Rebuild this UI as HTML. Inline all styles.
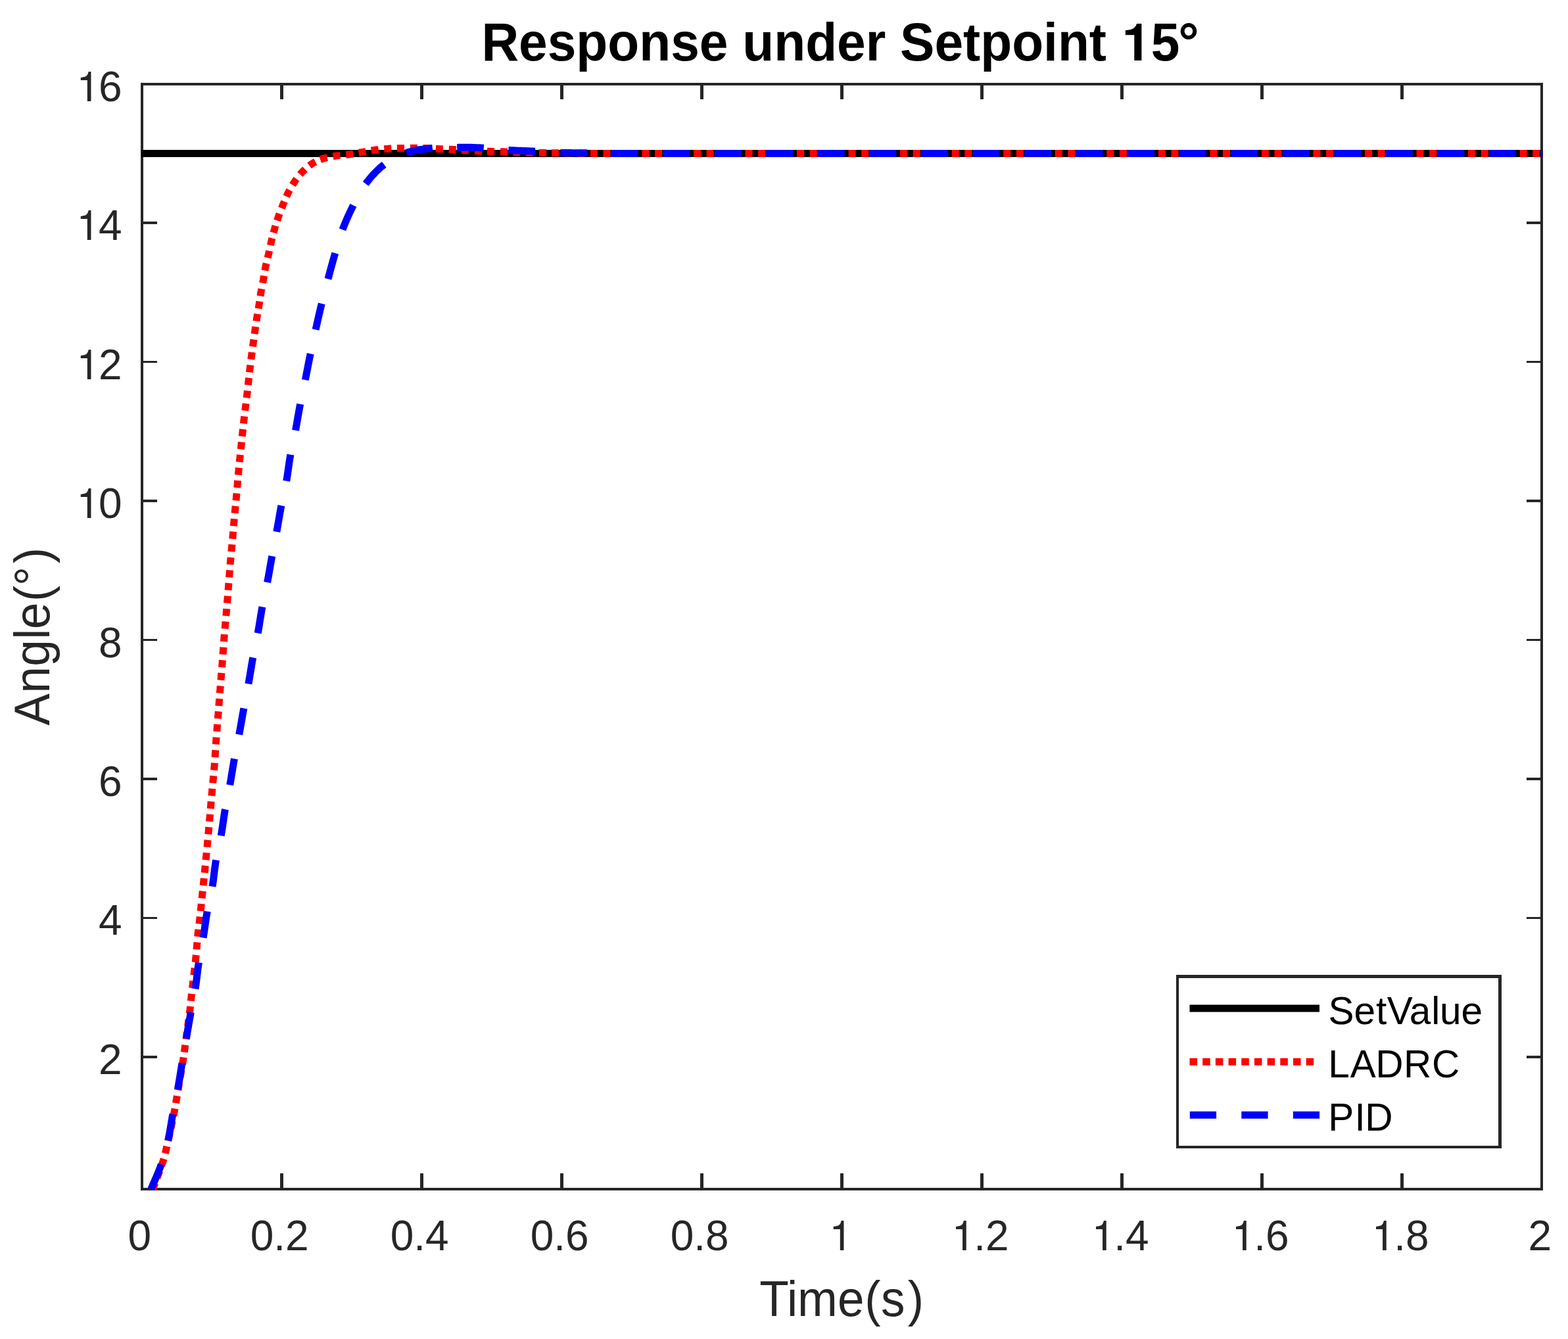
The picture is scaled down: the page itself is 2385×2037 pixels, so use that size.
<!DOCTYPE html>
<html><head><meta charset="utf-8"><title>Response under Setpoint 15°</title>
<style>html,body{margin:0;padding:0;background:#fff;}body{width:2385px;height:2037px;overflow:hidden;}svg{display:block;}text{font-family:'Liberation Sans', Arial, Helvetica, sans-serif;}</style>
</head><body>
<svg width="2385" height="2037" viewBox="0 0 2385 2037">
<rect x="0" y="0" width="2385" height="2037" fill="#ffffff"/>
<g stroke="#262626" fill="none" shape-rendering="crispEdges">
<rect x="216" y="128" width="2129" height="1681" stroke-width="4"/>
<line x1="428.5" y1="1809.0" x2="428.5" y2="1785.0" stroke-width="4.7"/>
<line x1="428.5" y1="128.0" x2="428.5" y2="151.0" stroke-width="4.7"/>
<line x1="641.5" y1="1809.0" x2="641.5" y2="1785.0" stroke-width="4.7"/>
<line x1="641.5" y1="128.0" x2="641.5" y2="151.0" stroke-width="4.7"/>
<line x1="854.5" y1="1809.0" x2="854.5" y2="1785.0" stroke-width="4.7"/>
<line x1="854.5" y1="128.0" x2="854.5" y2="151.0" stroke-width="4.7"/>
<line x1="1067.5" y1="1809.0" x2="1067.5" y2="1785.0" stroke-width="4.7"/>
<line x1="1067.5" y1="128.0" x2="1067.5" y2="151.0" stroke-width="4.7"/>
<line x1="1280.5" y1="1809.0" x2="1280.5" y2="1785.0" stroke-width="4.7"/>
<line x1="1280.5" y1="128.0" x2="1280.5" y2="151.0" stroke-width="4.7"/>
<line x1="1493.5" y1="1809.0" x2="1493.5" y2="1785.0" stroke-width="4.7"/>
<line x1="1493.5" y1="128.0" x2="1493.5" y2="151.0" stroke-width="4.7"/>
<line x1="1706.5" y1="1809.0" x2="1706.5" y2="1785.0" stroke-width="4.7"/>
<line x1="1706.5" y1="128.0" x2="1706.5" y2="151.0" stroke-width="4.7"/>
<line x1="1919.5" y1="1809.0" x2="1919.5" y2="1785.0" stroke-width="4.7"/>
<line x1="1919.5" y1="128.0" x2="1919.5" y2="151.0" stroke-width="4.7"/>
<line x1="2132.5" y1="1809.0" x2="2132.5" y2="1785.0" stroke-width="4.7"/>
<line x1="2132.5" y1="128.0" x2="2132.5" y2="151.0" stroke-width="4.7"/>
<line x1="216.0" y1="1607.9" x2="239.0" y2="1607.9" stroke-width="3.8"/>
<line x1="2345.0" y1="1607.9" x2="2322.0" y2="1607.9" stroke-width="3.8"/>
<line x1="216.0" y1="1396.4" x2="239.0" y2="1396.4" stroke-width="3.8"/>
<line x1="2345.0" y1="1396.4" x2="2322.0" y2="1396.4" stroke-width="3.8"/>
<line x1="216.0" y1="1185.0" x2="239.0" y2="1185.0" stroke-width="3.8"/>
<line x1="2345.0" y1="1185.0" x2="2322.0" y2="1185.0" stroke-width="3.8"/>
<line x1="216.0" y1="973.5" x2="239.0" y2="973.5" stroke-width="3.8"/>
<line x1="2345.0" y1="973.5" x2="2322.0" y2="973.5" stroke-width="3.8"/>
<line x1="216.0" y1="762.0" x2="239.0" y2="762.0" stroke-width="3.8"/>
<line x1="2345.0" y1="762.0" x2="2322.0" y2="762.0" stroke-width="3.8"/>
<line x1="216.0" y1="550.5" x2="239.0" y2="550.5" stroke-width="3.8"/>
<line x1="2345.0" y1="550.5" x2="2322.0" y2="550.5" stroke-width="3.8"/>
<line x1="216.0" y1="339.0" x2="239.0" y2="339.0" stroke-width="3.8"/>
<line x1="2345.0" y1="339.0" x2="2322.0" y2="339.0" stroke-width="3.8"/>
</g>
<defs><clipPath id="ax"><rect x="215.0" y="127.0" width="2131.0" height="1687.0"/></clipPath></defs>
<g fill="none" stroke-linejoin="round">
<line x1="214.5" y1="233.5" x2="2346.2" y2="233.5" stroke="#000" stroke-width="11"/>
<path d="M232.50,1808.80 L233.21,1806.89 L233.97,1804.87 L234.70,1802.96 L235.49,1800.85 L235.89,1799.81 M238.94,1791.73 L239.81,1789.43 L240.62,1787.26 L241.43,1785.07 L242.25,1782.86 L242.78,1781.42 M245.70,1773.30 L246.49,1771.05 L247.17,1769.07 L247.82,1767.13 L248.45,1765.18 L249.04,1763.21 L249.15,1762.85 M251.33,1754.65 L251.90,1752.30 L252.37,1750.30 L252.82,1748.32 L253.27,1746.37 L253.72,1744.42 L253.82,1743.94 M255.70,1735.60 L256.24,1733.17 L256.67,1731.21 L257.10,1729.26 L257.53,1727.30 L257.96,1725.34 L258.06,1724.86 M259.86,1716.51 L260.38,1714.07 L260.80,1712.11 L261.21,1710.15 L261.63,1708.19 L262.04,1706.23 L262.14,1705.75 M263.89,1697.39 L264.39,1694.94 L264.80,1692.98 L265.20,1691.01 L265.59,1689.03 L265.96,1687.04 L266.04,1686.60 M267.50,1678.03 L267.90,1675.59 L268.23,1673.60 L268.57,1671.61 L268.90,1669.64 L269.24,1667.67 L269.32,1667.18 M270.81,1658.46 L271.18,1656.33 L271.51,1654.35 L271.85,1652.38 L272.19,1650.41 L272.52,1648.44 L272.66,1647.62 M274.14,1638.90 L274.53,1636.60 L274.86,1634.63 L275.19,1632.65 L275.53,1630.68 L275.86,1628.71 L275.97,1628.05 M277.41,1619.33 L277.82,1616.86 L278.14,1614.89 L278.46,1612.89 L278.78,1610.87 L279.09,1608.85 L279.14,1608.47 M280.25,1600.65 L280.59,1598.24 L280.86,1596.21 L281.14,1594.21 L281.41,1592.22 L281.68,1590.23 L281.75,1589.75 M282.94,1581.09 L283.25,1578.79 L283.53,1576.80 L283.80,1574.81 L284.07,1572.82 L284.34,1570.83 L284.43,1570.19 M285.61,1561.53 L285.90,1559.39 L286.16,1557.40 L286.43,1555.41 L286.70,1553.42 L286.96,1551.43 L287.07,1550.62 M288.20,1541.96 L288.52,1539.49 L288.77,1537.50 L289.03,1535.49 L289.26,1533.47 L289.48,1531.45 L289.52,1531.04 M290.33,1522.77 L290.58,1520.33 L290.79,1518.31 L291.01,1516.30 L291.24,1514.30 L291.47,1512.31 L291.52,1511.84 M292.54,1503.13 L292.81,1500.83 L293.05,1498.83 L293.29,1496.84 L293.52,1494.84 L293.76,1492.85 L293.84,1492.21 M294.87,1483.50 L295.12,1481.37 L295.35,1479.37 L295.59,1477.38 L295.82,1475.38 L296.05,1473.38 L296.14,1472.58 M297.11,1463.87 L297.38,1461.40 L297.59,1459.40 L297.80,1457.40 L298.01,1455.40 L298.20,1453.41 L298.25,1452.93 M299.01,1444.38 L299.22,1441.90 L299.39,1439.90 L299.55,1437.90 L299.72,1435.90 L299.89,1433.90 L299.93,1433.42 M300.67,1424.87 L300.91,1422.40 L301.10,1420.40 L301.30,1418.40 L301.53,1416.41 L301.77,1414.42 L301.83,1413.94 M302.93,1405.46 L303.25,1402.99 L303.49,1401.00 L303.71,1399.00 L303.93,1397.00 L304.15,1395.00 L304.20,1394.53 M305.11,1385.97 L305.37,1383.50 L305.58,1381.50 L305.79,1379.50 L305.99,1377.50 L306.20,1375.50 L306.25,1375.03 M307.13,1366.47 L307.39,1364.00 L307.60,1362.00 L307.80,1359.99 L308.01,1357.98 L308.22,1355.97 L308.27,1355.53 M309.15,1347.12 L309.38,1344.92 L309.59,1342.91 L309.80,1340.90 L310.01,1338.89 L310.21,1336.88 L310.29,1336.18 M311.15,1327.77 L311.40,1325.32 L311.60,1323.31 L311.80,1321.30 L312.00,1319.30 L312.20,1317.30 L312.25,1316.83 M313.10,1308.28 L313.34,1305.80 L313.54,1303.80 L313.73,1301.80 L313.93,1299.80 L314.12,1297.80 L314.16,1297.33 M314.98,1288.78 L315.22,1286.30 L315.41,1284.30 L315.59,1282.30 L315.78,1280.30 L315.96,1278.30 L316.01,1277.82 M316.78,1269.28 L317.01,1266.80 L317.19,1264.80 L317.36,1262.80 L317.54,1260.80 L317.72,1258.80 L317.76,1258.32 M318.52,1249.78 L318.74,1247.30 L318.91,1245.30 L319.09,1243.30 L319.26,1241.29 L319.44,1239.29 L319.48,1238.82 M320.22,1230.23 L320.44,1227.76 L320.61,1225.75 L320.78,1223.75 L320.95,1221.74 L321.13,1219.74 L321.17,1219.27 M321.91,1210.68 L322.13,1208.21 L322.31,1206.20 L322.49,1204.20 L322.67,1202.20 L322.86,1200.20 L322.90,1199.72 M323.72,1191.18 L323.96,1188.70 L324.15,1186.70 L324.34,1184.70 L324.53,1182.70 L324.72,1180.70 L324.76,1180.23 M325.54,1171.68 L325.75,1169.20 L325.92,1167.20 L326.08,1165.20 L326.24,1163.19 L326.39,1161.18 L326.42,1160.72 M327.02,1152.09 L327.19,1149.62 L327.32,1147.61 L327.45,1145.60 L327.58,1143.59 L327.71,1141.58 L327.74,1141.11 M328.31,1132.49 L328.48,1130.01 L328.63,1128.00 L328.77,1125.99 L328.93,1123.98 L329.08,1121.97 L329.11,1121.52 M329.79,1112.88 L329.99,1110.41 L330.15,1108.40 L330.31,1106.39 L330.47,1104.38 L330.64,1102.37 L330.67,1101.92 M331.37,1093.28 L331.56,1090.82 L331.72,1088.81 L331.88,1086.80 L332.03,1084.81 L332.19,1082.81 L332.23,1082.32 M332.88,1073.83 L333.07,1071.34 L333.22,1069.35 L333.37,1067.35 L333.52,1065.36 L333.68,1063.36 L333.71,1062.87 M334.37,1054.38 L334.56,1051.89 L334.72,1049.90 L334.88,1047.89 L335.04,1045.88 L335.20,1043.87 L335.24,1043.42 M335.95,1034.78 L336.16,1032.32 L336.32,1030.31 L336.49,1028.30 L336.66,1026.29 L336.82,1024.28 L336.86,1023.82 M337.57,1015.18 L337.76,1012.72 L337.92,1010.71 L338.08,1008.70 L338.23,1006.69 L338.38,1004.68 L338.42,1004.22 M339.04,995.59 L339.22,993.11 L339.36,991.10 L339.51,989.09 L339.65,987.08 L339.80,985.07 L339.83,984.61 M340.47,975.98 L340.66,973.51 L340.82,971.50 L340.98,969.50 L341.15,967.51 L341.31,965.51 L341.35,965.02 M342.09,956.53 L342.31,954.04 L342.49,952.05 L342.67,950.05 L342.85,948.06 L343.03,946.06 L343.07,945.57 M343.83,937.08 L344.04,934.59 L344.22,932.60 L344.38,930.60 L344.55,928.59 L344.72,926.58 L344.76,926.12 M345.47,917.48 L345.67,915.02 L345.84,913.01 L346.00,911.00 L346.16,908.99 L346.33,906.98 L346.36,906.52 M347.06,897.88 L347.26,895.42 L347.42,893.41 L347.58,891.40 L347.74,889.40 L347.90,887.40 L347.94,886.92 M348.60,878.38 L348.79,875.90 L348.95,873.90 L349.10,871.90 L349.26,869.90 L349.42,867.90 L349.45,867.41 M350.14,858.88 L350.35,856.40 L350.51,854.40 L350.69,852.39 L350.86,850.38 L351.04,848.37 L351.08,847.92 M351.87,839.27 L352.10,836.81 L352.29,834.80 L352.48,832.79 L352.67,830.78 L352.86,828.77 L352.90,828.32 M353.71,819.68 L353.93,817.22 L354.11,815.21 L354.29,813.20 L354.46,811.20 L354.62,809.20 L354.66,808.72 M355.33,800.18 L355.54,797.70 L355.71,795.70 L355.89,793.69 L356.08,791.68 L356.27,789.67 L356.31,789.22 M357.11,780.82 L357.33,778.62 L357.53,776.61 L357.72,774.60 L357.92,772.59 L358.11,770.58 L358.18,769.88 M358.99,761.48 L359.22,759.02 L359.41,757.01 L359.59,755.00 L359.77,753.00 L359.95,751.00 L359.99,750.52 M360.72,741.98 L360.93,739.50 L361.10,737.50 L361.27,735.50 L361.44,733.50 L361.61,731.50 L361.65,731.02 M362.39,722.48 L362.62,720.00 L362.81,718.00 L363.00,716.00 L363.19,713.99 L363.38,711.98 L363.43,711.53 M364.29,702.92 L364.55,700.45 L364.75,698.45 L364.96,696.44 L365.17,694.44 L365.38,692.43 L365.43,691.98 M366.33,683.37 L366.59,680.91 L366.80,678.90 L367.00,676.90 L367.21,674.90 L367.42,672.90 L367.46,672.43 M368.34,663.87 L368.59,661.40 L368.80,659.39 L369.00,657.39 L369.21,655.39 L369.42,653.39 L369.47,652.92 M370.39,644.37 L370.66,641.90 L370.89,639.90 L371.11,637.90 L371.35,635.89 L371.59,633.88 L371.64,633.44 M372.70,624.81 L373.01,622.36 L373.26,620.35 L373.51,618.35 L373.77,616.34 L374.02,614.34 L374.08,613.89 M375.15,605.26 L375.44,602.81 L375.68,600.80 L375.92,598.80 L376.14,596.80 L376.37,594.80 L376.42,594.34 M377.35,585.77 L377.61,583.30 L377.82,581.30 L378.04,579.30 L378.25,577.30 L378.46,575.30 L378.51,574.83 M379.46,566.26 L379.74,563.80 L379.98,561.80 L380.22,559.80 L380.46,557.80 L380.71,555.81 L380.77,555.34 M381.86,546.79 L382.18,544.33 L382.44,542.34 L382.70,540.34 L382.97,538.35 L383.23,536.35 L383.29,535.89 M384.45,527.35 L384.79,524.89 L385.06,522.90 L385.34,520.90 L385.61,518.91 L385.89,516.92 L385.95,516.45 M387.15,507.93 L387.50,505.48 L387.79,503.48 L388.08,501.50 L388.36,499.51 L388.65,497.52 L388.72,497.05 M389.98,488.54 L390.35,486.08 L390.65,484.09 L390.96,482.09 L391.28,480.08 L391.61,478.07 L391.68,477.67 M393.10,469.43 L393.51,467.02 L393.84,465.01 L394.16,463.00 L394.47,460.99 L394.77,458.97 L394.83,458.56 M396.03,450.33 L396.41,447.91 L396.73,445.90 L397.07,443.91 L397.42,441.92 L397.78,439.94 L397.87,439.49 M399.59,430.51 L400.05,428.07 L400.42,426.09 L400.78,424.10 L401.12,422.08 L401.46,420.07 L401.52,419.68 M402.89,411.41 L403.32,409.00 L403.70,407.00 L404.10,405.02 L404.53,403.05 L404.98,401.09 L405.09,400.63 M407.13,392.25 L407.71,389.84 L408.17,387.88 L408.62,385.92 L409.06,383.96 L409.48,382.00 L409.58,381.53 M411.38,373.16 L411.92,370.73 L412.37,368.78 L412.83,366.82 L413.31,364.85 L413.78,362.88 L413.89,362.45 M416.04,354.00 L416.68,351.62 L417.22,349.67 L417.78,347.72 L418.35,345.77 L418.93,343.83 L419.05,343.42 M421.54,335.51 L422.31,333.18 L422.97,331.26 L423.64,329.34 L424.32,327.41 L425.03,325.50 L425.16,325.13 M428.36,316.81 L429.26,314.54 L430.02,312.65 L430.78,310.76 L431.54,308.86 L432.30,306.97 L432.45,306.59 M435.67,298.88 L436.68,296.65 L437.55,294.81 L438.46,292.99 L439.38,291.18 L440.33,289.38 L440.53,289.01 M444.92,281.32 L446.22,279.25 L447.33,277.54 L448.47,275.87 L449.62,274.21 L450.79,272.57 L451.06,272.20 M456.40,265.37 L458.04,263.50 L459.41,262.02 L460.81,260.57 L462.26,259.12 L463.75,257.70 L464.02,257.44 M470.49,251.94 L472.46,250.49 L474.15,249.35 L475.85,248.28 L478.01,247.03 L479.79,246.10 M487.21,242.82 L489.55,241.96 L491.45,241.31 L493.37,240.70 L495.33,240.14 L497.30,239.64 L497.70,239.55 M506.47,237.86 L508.87,237.47 L510.89,237.16 L512.89,236.85 L514.87,236.58 L516.86,236.35 L517.35,236.30 M526.34,235.44 L528.82,235.18 L530.81,234.93 L532.81,234.65 L534.83,234.35 L536.84,234.02 L537.23,233.95 M545.49,232.47 L547.89,232.03 L549.89,231.67 L551.89,231.33 L553.87,230.98 L555.84,230.62 L556.31,230.53 M564.76,229.02 L567.22,228.63 L569.21,228.34 L571.20,228.07 L573.20,227.82 L575.21,227.59 L575.66,227.54 M584.32,226.71 L586.78,226.52 L588.79,226.37 L590.80,226.23 L592.81,226.11 L594.82,226.00 L595.29,225.98 M603.90,225.65 L606.38,225.58 L608.39,225.53 L610.40,225.48 L612.90,225.42 L614.90,225.39 M623.90,225.31 L626.40,225.30 L628.40,225.30 L630.41,225.30 L632.42,225.30 L634.43,225.30 L634.90,225.30 M643.50,225.37 L645.99,225.42 L648.00,225.47 L650.02,225.54 L652.05,225.63 L654.08,225.73 L654.49,225.76 M662.81,226.28 L665.25,226.44 L667.28,226.55 L669.32,226.65 L671.36,226.74 L673.40,226.82 L673.80,226.83 M682.71,227.15 L685.14,227.25 L687.18,227.35 L689.22,227.46 L691.25,227.58 L693.28,227.71 L693.69,227.74 M702.01,228.34 L704.45,228.51 L706.48,228.64 L708.50,228.76 L710.50,228.87 L712.50,228.98 L712.99,229.01 M722.01,229.45 L724.50,229.57 L726.50,229.66 L728.50,229.74 L730.50,229.83 L732.50,229.91 L733.00,229.93 M741.00,230.22 L743.50,230.31 L745.50,230.37 L747.50,230.43 L749.50,230.49 L751.50,230.54 L752.00,230.55 M761.00,230.75 L763.50,230.82 L765.50,230.87 L767.50,230.93 L769.50,231.00 L771.50,231.07 L772.00,231.08 M780.50,231.40 L783.00,231.50 L785.00,231.57 L787.02,231.63 L789.06,231.70 L791.10,231.77 L791.50,231.79 M799.90,232.06 L802.34,232.12 L804.38,232.18 L806.40,232.22 L808.41,232.26 L810.42,232.30 L810.90,232.31 M820.00,232.43 L822.48,232.46 L824.49,232.49 L826.50,232.51 L828.50,232.54 L830.50,232.56 L831.00,232.56 M839.00,232.64 L841.50,232.66 L843.50,232.69 L845.51,232.71 L847.53,232.74 L849.55,232.77 L850.00,232.78 M858.95,232.92 L861.17,232.96 L863.19,232.99 L865.21,233.02 L867.23,233.05 L869.25,233.09 L869.95,233.10 M878.90,233.23 L881.37,233.26 L883.39,233.29 L885.40,233.31 L887.40,233.33 L889.40,233.35 L889.90,233.35 M897.90,233.39 L900.40,233.39 L902.40,233.40 L904.40,233.40 L906.40,233.41 L908.41,233.41 L908.90,233.41 M917.53,233.42 L919.92,233.43 L921.92,233.43 L923.92,233.43 L925.92,233.44 L927.93,233.44 L928.53,233.44 M937.17,233.45 L939.44,233.46 L941.44,233.46 L943.44,233.46 L945.44,233.46 L947.45,233.47 L948.17,233.47 M956.80,233.48 L958.96,233.48 L960.96,233.48 L962.96,233.48 L964.96,233.48 L966.97,233.48 L967.80,233.49 M976.44,233.49 L978.48,233.49 L980.48,233.49 L982.48,233.50 L984.48,233.50 L986.49,233.50 L987.44,233.50 M996.07,233.50 L998.50,233.50 L1000.50,233.50 L1002.50,233.50 L1004.51,233.50 L1006.52,233.50 L1007.07,233.50 M1015.71,233.50 L1018.12,233.50 L1020.15,233.50 L1022.18,233.50 L1024.21,233.50 L1026.25,233.50 L1026.71,233.50 M1035.34,233.50 L1037.50,233.50 L1039.55,233.50 L1041.61,233.50 L1043.67,233.50 L1045.73,233.50 L1046.34,233.50 M1054.98,233.50 L1057.12,233.50 L1059.20,233.50 L1061.29,233.50 L1063.37,233.50 L1065.46,233.50 L1065.98,233.50 M1074.61,233.50 L1076.98,233.50 L1079.09,233.50 L1081.19,233.50 L1083.30,233.50 L1085.41,233.51 L1085.61,233.51 M1094.25,233.51 L1096.54,233.51 L1098.66,233.51 L1100.79,233.51 L1102.92,233.51 L1105.05,233.51 L1105.25,233.51 M1113.88,233.51 L1116.29,233.51 L1118.44,233.51 L1120.59,233.51 L1122.74,233.51 L1124.88,233.51 M1133.52,233.51 L1135.69,233.51 L1137.86,233.51 L1140.03,233.51 L1142.20,233.51 L1144.37,233.51 L1144.52,233.51 M1153.15,233.51 L1155.27,233.51 L1157.45,233.51 L1159.64,233.51 L1161.83,233.51 L1164.02,233.51 L1164.15,233.51 M1172.79,233.51 L1175.00,233.51 L1177.20,233.51 L1179.41,233.51 L1181.61,233.51 L1183.79,233.51 M1192.42,233.51 L1194.89,233.51 L1197.10,233.51 L1199.33,233.51 L1201.55,233.51 L1203.42,233.51 M1212.06,233.51 L1214.36,233.51 L1216.59,233.51 L1218.82,233.51 L1221.06,233.51 L1223.06,233.51 M1231.69,233.51 L1233.95,233.51 L1236.20,233.51 L1238.45,233.51 L1240.70,233.51 L1242.69,233.51 M1251.33,233.51 L1253.66,233.51 L1255.92,233.51 L1258.19,233.51 L1260.45,233.51 L1262.33,233.51 M1270.96,233.51 L1273.48,233.51 L1275.76,233.51 L1278.03,233.51 L1280.30,233.51 L1281.96,233.51 M1290.60,233.51 L1292.83,233.51 L1295.11,233.51 L1297.40,233.51 L1299.68,233.51 L1301.60,233.51 M1310.23,233.51 L1312.27,233.51 L1314.56,233.51 L1316.85,233.51 L1319.14,233.51 L1321.23,233.51 M1329.87,233.51 L1332.35,233.51 L1334.65,233.51 L1336.95,233.51 L1339.25,233.51 L1340.87,233.51 M1349.50,233.51 L1351.93,233.51 L1354.24,233.51 L1356.55,233.51 L1358.86,233.51 L1360.50,233.51 M1369.14,233.51 L1371.57,233.51 L1373.89,233.51 L1376.20,233.51 L1378.52,233.51 L1380.14,233.51 M1388.77,233.51 L1391.26,233.51 L1393.58,233.51 L1395.91,233.51 L1398.23,233.51 L1399.77,233.51 M1408.41,233.51 L1410.42,233.51 L1412.75,233.51 L1415.07,233.51 L1417.40,233.51 L1419.41,233.51 M1428.04,233.51 L1430.19,233.51 L1432.52,233.51 L1434.85,233.51 L1437.18,233.51 L1439.04,233.51 M1447.68,233.51 L1449.99,233.51 L1452.33,233.51 L1454.66,233.51 L1456.99,233.51 L1458.68,233.51 M1467.31,233.51 L1469.81,233.51 L1472.15,233.51 L1474.48,233.51 L1476.81,233.51 L1478.31,233.51 M1486.95,233.51 L1489.06,233.51 L1491.40,233.51 L1493.73,233.51 L1496.06,233.51 L1497.95,233.51 M1506.58,233.51 L1508.90,233.51 L1511.23,233.51 L1513.57,233.51 L1515.90,233.51 L1517.58,233.51 M1526.22,233.51 L1528.73,233.51 L1531.06,233.51 L1533.40,233.51 L1535.73,233.51 L1537.22,233.51 M1545.85,233.51 L1547.97,233.51 L1550.30,233.51 L1552.63,233.51 L1554.96,233.51 L1556.85,233.51 M1565.49,233.51 L1567.77,233.51 L1570.10,233.51 L1572.42,233.51 L1574.75,233.51 L1576.49,233.51 M1585.12,233.51 L1587.54,233.51 L1589.86,233.51 L1592.19,233.51 L1594.51,233.51 L1596.12,233.51 M1604.76,233.51 L1607.27,233.51 L1609.59,233.51 L1611.91,233.51 L1614.23,233.51 L1615.76,233.51 M1624.39,233.51 L1626.96,233.51 L1629.28,233.51 L1631.59,233.51 L1633.90,233.51 L1635.39,233.51 M1644.03,233.51 L1646.60,233.51 L1648.91,233.51 L1651.21,233.51 L1653.52,233.51 L1655.03,233.51 M1663.66,233.51 L1666.18,233.51 L1668.48,233.51 L1670.77,233.51 L1673.07,233.51 L1674.66,233.51 M1683.30,233.51 L1685.68,233.51 L1687.97,233.51 L1690.26,233.51 L1692.55,233.51 L1694.30,233.51 M1702.93,233.51 L1705.11,233.51 L1707.39,233.51 L1709.67,233.51 L1711.95,233.51 L1713.93,233.51 M1722.57,233.51 L1725.03,233.51 L1727.30,233.51 L1729.56,233.51 L1731.83,233.51 L1733.57,233.51 M1742.20,233.51 L1744.27,233.51 L1746.53,233.51 L1748.79,233.51 L1751.04,233.51 L1753.20,233.51 M1761.84,233.51 L1763.98,233.51 L1766.23,233.51 L1768.47,233.51 L1770.71,233.51 L1772.84,233.51 M1781.47,233.51 L1783.57,233.51 L1785.80,233.51 L1788.03,233.51 L1790.26,233.51 L1792.47,233.51 M1801.11,233.51 L1803.59,233.51 L1805.81,233.51 L1808.02,233.51 L1810.23,233.51 L1812.11,233.51 M1820.74,233.51 L1822.92,233.51 L1825.12,233.51 L1827.32,233.51 L1829.51,233.51 L1831.71,233.51 L1831.74,233.51 M1840.38,233.51 L1842.65,233.51 L1844.83,233.51 L1847.01,233.51 L1849.19,233.51 L1851.37,233.51 L1851.38,233.51 M1860.01,233.51 L1862.22,233.51 L1864.38,233.51 L1866.54,233.51 L1868.70,233.51 L1870.86,233.51 L1871.01,233.51 M1879.65,233.51 L1882.15,233.51 L1884.29,233.51 L1886.43,233.51 L1888.57,233.51 L1890.65,233.51 M1899.28,233.51 L1901.36,233.51 L1903.48,233.51 L1905.60,233.51 L1907.72,233.51 L1909.83,233.51 L1910.28,233.51 M1918.92,233.51 L1921.43,233.51 L1923.53,233.51 L1925.62,233.51 L1927.72,233.51 L1929.81,233.51 L1929.92,233.51 M1938.55,233.51 L1940.75,233.51 L1942.83,233.51 L1944.90,233.51 L1946.97,233.51 L1949.04,233.51 L1949.55,233.51 M1958.19,233.51 L1960.37,233.51 L1962.42,233.51 L1964.47,233.51 L1966.51,233.51 L1968.56,233.51 L1969.19,233.51 M1977.82,233.51 L1980.25,233.51 L1982.27,233.51 L1984.29,233.51 L1986.31,233.51 L1988.32,233.51 L1988.82,233.51 M1997.46,233.51 L1999.85,233.51 L2002.34,233.51 L2004.83,233.51 L2007.31,233.51 L2008.46,233.51 M2017.09,233.51 L2019.17,233.51 L2021.63,233.51 L2024.08,233.51 L2026.52,233.51 L2028.09,233.51 M2036.73,233.51 L2039.16,233.51 L2041.58,233.51 L2043.98,233.51 L2046.39,233.51 L2047.73,233.51 M2056.36,233.51 L2058.81,233.51 L2061.18,233.51 L2063.55,233.51 L2065.91,233.51 L2067.36,233.51 M2076.00,233.51 L2078.10,233.51 L2080.43,233.50 L2082.75,233.50 L2085.07,233.50 L2087.00,233.50 M2095.63,233.50 L2097.94,233.50 L2100.22,233.50 L2102.49,233.50 L2104.76,233.50 L2106.63,233.50 M2115.27,233.50 L2117.35,233.50 L2119.58,233.50 L2121.80,233.50 L2124.02,233.50 L2126.23,233.50 L2126.27,233.50 M2134.90,233.50 L2137.19,233.50 L2139.37,233.50 L2141.53,233.50 L2143.69,233.50 L2145.85,233.50 L2145.90,233.50 M2154.54,233.50 L2156.96,233.50 L2159.07,233.50 L2161.18,233.50 L2163.28,233.50 L2165.38,233.50 L2165.54,233.50 M2174.17,233.50 L2176.18,233.50 L2178.23,233.50 L2180.28,233.50 L2182.32,233.50 L2184.36,233.50 L2185.17,233.50 M2193.81,233.50 L2196.03,233.50 L2198.42,233.50 L2200.79,233.50 L2203.16,233.50 L2204.81,233.50 M2213.44,233.50 L2215.61,233.50 L2217.91,233.50 L2220.20,233.50 L2222.48,233.50 L2224.44,233.50 M2233.08,233.50 L2235.20,233.50 L2237.41,233.50 L2239.61,233.50 L2241.80,233.50 L2243.97,233.50 L2244.08,233.50 M2252.71,233.50 L2255.05,233.50 L2257.16,233.50 L2259.26,233.50 L2261.34,233.50 L2263.42,233.50 L2263.71,233.50 M2272.35,233.50 L2274.63,233.50 L2276.63,233.50 L2278.95,233.50 L2281.26,233.50 L2283.35,233.50 M2291.98,233.50 L2294.12,233.50 L2296.31,233.50 L2298.49,233.50 L2300.66,233.50 L2302.80,233.50 L2302.98,233.50 M2311.62,233.50 L2313.87,233.50 L2315.91,233.50 L2317.94,233.50 L2319.94,233.50 L2322.22,233.50 L2322.62,233.50 M2331.25,233.50 L2333.51,233.50 L2335.64,233.50 L2337.75,233.50 L2339.83,233.50 L2341.90,233.50 L2342.25,233.50" stroke="#ff0000" stroke-width="11" stroke-linecap="butt"/>
<path d="M229.80,1808.80 L230.61,1806.90 L231.50,1804.86 L232.35,1802.92 L233.29,1800.78 L234.30,1798.48 L235.15,1796.54 L236.03,1794.52 L236.92,1792.45 L237.83,1790.33 L238.74,1788.17 L239.65,1786.01 L240.54,1783.84 L241.41,1781.68 L242.26,1779.56 L243.06,1777.47 L243.82,1775.44 L244.53,1773.48 L245.19,1771.58 L245.29,1771.29 M255.60,1735.00 L256.05,1733.04 L256.47,1731.08 L256.88,1729.11 L257.27,1727.14 L257.65,1725.16 L258.01,1723.19 L258.36,1721.21 L258.71,1719.22 L259.04,1717.24 L259.37,1715.25 L259.70,1713.27 L260.02,1711.28 L260.35,1709.29 L260.68,1707.31 L261.01,1705.32 L261.34,1703.34 L261.69,1701.35 L262.04,1699.37 L262.41,1697.39 L262.78,1695.42 L262.85,1695.06 M270.30,1657.50 L270.66,1655.51 L271.01,1653.52 L271.36,1651.53 L271.70,1649.54 L272.03,1647.54 L272.37,1645.55 L272.70,1643.55 L273.02,1641.56 L273.34,1639.56 L273.67,1637.56 L273.99,1635.57 L274.31,1633.57 L274.63,1631.57 L274.95,1629.58 L275.27,1627.58 L275.59,1625.59 L275.92,1623.59 L276.25,1621.60 L276.58,1619.61 L276.92,1617.63 L276.95,1617.45 M283.30,1580.10 L283.64,1578.10 L283.98,1576.11 L284.33,1574.11 L284.67,1572.12 L285.01,1570.12 L285.35,1568.13 L285.69,1566.13 L286.04,1564.14 L286.38,1562.14 L286.72,1560.15 L287.07,1558.15 L287.42,1556.16 L287.76,1554.16 L288.11,1552.17 L288.46,1550.17 L288.82,1548.18 L289.17,1546.19 L289.53,1544.19 L289.89,1542.20 L290.26,1540.21 L290.28,1540.10 M297.00,1504.40 L297.31,1502.40 L297.61,1500.40 L297.90,1498.40 L298.17,1496.40 L298.44,1494.39 L298.70,1492.38 L298.95,1490.38 L299.20,1488.37 L299.44,1486.36 L299.68,1484.35 L299.92,1482.34 L300.17,1480.33 L300.41,1478.33 L300.67,1476.32 L300.92,1474.31 L301.19,1472.31 L301.46,1470.30 L301.75,1468.30 L302.05,1466.30 L302.36,1464.31 L302.38,1464.16 M309.10,1426.70 L309.42,1424.70 L309.74,1422.71 L310.05,1420.71 L310.35,1418.71 L310.64,1416.70 L310.93,1414.70 L311.22,1412.70 L311.51,1410.69 L311.79,1408.69 L312.07,1406.69 L312.36,1404.68 L312.65,1402.68 L312.94,1400.68 L313.24,1398.68 L313.54,1396.68 L313.85,1394.68 L314.17,1392.68 L314.50,1390.69 L314.84,1388.69 L315.19,1386.70 L315.21,1386.56 M323.00,1348.60 L323.33,1346.60 L323.64,1344.61 L323.94,1342.60 L324.22,1340.60 L324.49,1338.59 L324.75,1336.59 L325.01,1334.58 L325.25,1332.57 L325.50,1330.56 L325.74,1328.55 L325.98,1326.54 L326.23,1324.53 L326.48,1322.52 L326.74,1320.51 L327.01,1318.50 L327.29,1316.50 L327.58,1314.49 L327.89,1312.50 L328.22,1310.50 L328.56,1308.51 L328.58,1308.39 M336.20,1271.40 L336.55,1269.41 L336.89,1267.41 L337.22,1265.42 L337.54,1263.42 L337.85,1261.42 L338.16,1259.42 L338.46,1257.41 L338.75,1255.41 L339.04,1253.41 L339.33,1251.40 L339.62,1249.40 L339.92,1247.40 L340.21,1245.39 L340.51,1243.39 L340.81,1241.39 L341.12,1239.39 L341.44,1237.39 L341.77,1235.39 L342.11,1233.40 L342.46,1231.41 L342.49,1231.29 M349.70,1194.30 L350.05,1192.32 L350.40,1190.35 L350.74,1188.37 L351.08,1186.39 L351.41,1184.41 L351.74,1182.43 L352.06,1180.45 L352.38,1178.47 L352.71,1176.49 L353.03,1174.50 L353.35,1172.52 L353.67,1170.54 L353.99,1168.56 L354.32,1166.58 L354.65,1164.60 L354.98,1162.62 L355.32,1160.64 L355.67,1158.66 L356.02,1156.69 L356.38,1154.71 L356.46,1154.27 M363.70,1117.50 L364.07,1115.52 L364.43,1113.55 L364.79,1111.57 L365.15,1109.59 L365.51,1107.61 L365.86,1105.63 L366.21,1103.65 L366.56,1101.67 L366.91,1099.69 L367.25,1097.71 L367.60,1095.73 L367.95,1093.75 L368.29,1091.77 L368.64,1089.79 L368.99,1087.81 L369.35,1085.83 L369.70,1083.85 L370.06,1081.87 L370.42,1079.89 L370.78,1077.91 L370.85,1077.54 M377.90,1040.40 L378.25,1038.42 L378.60,1036.45 L378.94,1034.47 L379.28,1032.49 L379.62,1030.51 L379.95,1028.53 L380.28,1026.54 L380.60,1024.56 L380.93,1022.58 L381.26,1020.60 L381.59,1018.62 L381.92,1016.64 L382.25,1014.66 L382.58,1012.68 L382.92,1010.70 L383.26,1008.72 L383.61,1006.74 L383.96,1004.76 L384.32,1002.79 L384.68,1000.81 L384.76,1000.39 M392.20,963.20 L392.56,961.23 L392.91,959.25 L393.25,957.27 L393.59,955.29 L393.92,953.31 L394.24,951.33 L394.56,949.35 L394.88,947.37 L395.20,945.38 L395.52,943.40 L395.84,941.42 L396.15,939.44 L396.48,937.46 L396.80,935.47 L397.13,933.49 L397.47,931.52 L397.81,929.54 L398.16,927.56 L398.52,925.59 L398.89,923.61 L398.97,923.17 M406.60,886.00 L406.98,884.03 L407.34,882.06 L407.71,880.09 L408.07,878.11 L408.43,876.14 L408.78,874.16 L409.13,872.19 L409.48,870.21 L409.83,868.24 L410.17,866.26 L410.52,864.29 L410.86,862.31 L411.21,860.33 L411.55,858.36 L411.90,856.38 L412.25,854.41 L412.60,852.43 L412.96,850.46 L413.32,848.49 L413.68,846.51 L413.77,846.04 M420.80,809.00 L421.16,807.02 L421.52,805.04 L421.87,803.06 L422.22,801.08 L422.57,799.10 L422.92,797.12 L423.26,795.14 L423.61,793.16 L423.95,791.18 L424.30,789.20 L424.64,787.22 L424.99,785.23 L425.34,783.25 L425.69,781.27 L426.04,779.30 L426.40,777.32 L426.77,775.34 L427.14,773.36 L427.51,771.39 L427.89,769.41 L427.97,769.04 M435.70,731.80 L436.05,729.81 L436.39,727.81 L436.71,725.82 L437.02,723.82 L437.33,721.82 L437.62,719.82 L437.91,717.81 L438.20,715.81 L438.48,713.80 L438.76,711.80 L439.04,709.80 L439.33,707.79 L439.61,705.79 L439.91,703.79 L440.21,701.78 L440.52,699.78 L440.84,697.79 L441.17,695.79 L441.51,693.80 L441.87,691.81 L441.89,691.68 M449.50,654.70 L449.87,652.73 L450.24,650.76 L450.60,648.78 L450.96,646.81 L451.31,644.84 L451.66,642.86 L452.00,640.88 L452.35,638.91 L452.69,636.93 L453.03,634.95 L453.37,632.98 L453.71,631.00 L454.06,629.03 L454.41,627.05 L454.76,625.07 L455.11,623.10 L455.47,621.13 L455.84,619.16 L456.21,617.18 L456.59,615.22 L456.68,614.74 M464.30,578.00 L464.70,576.03 L465.09,574.06 L465.48,572.10 L465.87,570.13 L466.26,568.16 L466.64,566.19 L467.02,564.22 L467.41,562.25 L467.79,560.28 L468.17,558.31 L468.56,556.34 L468.94,554.37 L469.33,552.40 L469.72,550.43 L470.11,548.46 L470.50,546.49 L470.90,544.52 L471.30,542.56 L471.70,540.59 L472.11,538.61 L472.20,538.18 M480.10,501.50 L480.54,499.55 L480.97,497.59 L481.41,495.64 L481.85,493.69 L482.29,491.74 L482.73,489.79 L483.17,487.83 L483.61,485.88 L484.06,483.93 L484.51,481.98 L484.96,480.03 L485.41,478.08 L485.86,476.14 L486.32,474.19 L486.78,472.24 L487.24,470.29 L487.70,468.35 L488.17,466.40 L488.64,464.46 L489.12,462.51 L489.26,461.95 M499.00,424.30 L499.52,422.35 L500.04,420.41 L500.56,418.46 L501.08,416.51 L501.60,414.56 L502.12,412.62 L502.65,410.67 L503.17,408.73 L503.70,406.78 L504.23,404.84 L504.77,402.89 L505.30,400.95 L505.84,399.01 L506.38,397.07 L506.93,395.13 L507.48,393.19 L508.03,391.25 L508.59,389.32 L509.16,387.38 L509.72,385.45 L509.81,385.17 M521.00,349.40 L521.71,347.52 L522.44,345.63 L523.18,343.76 L523.93,341.88 L524.69,340.01 L525.46,338.15 L526.25,336.28 L527.04,334.43 L527.85,332.57 L528.66,330.72 L529.49,328.88 L530.33,327.04 L531.17,325.20 L532.03,323.37 L532.89,321.55 L533.77,319.73 L534.65,317.91 L535.55,316.10 L536.45,314.30 L537.36,312.50 L537.45,312.31 M556.30,279.60 L557.51,277.99 L558.74,276.39 L560.00,274.79 L561.27,273.21 L562.56,271.63 L563.87,270.06 L565.20,268.51 L566.55,266.98 L567.92,265.46 L569.31,263.96 L570.72,262.48 L572.15,261.02 L573.60,259.59 L575.06,258.19 L576.55,256.81 L578.06,255.46 L579.59,254.14 L581.14,252.86 L582.71,251.61 L584.30,250.39 M618.00,232.50 L620.36,231.72 L622.75,231.00 L624.68,230.47 L626.62,229.98 L628.58,229.52 L630.55,229.10 L632.53,228.70 L634.51,228.34 L636.51,228.00 L638.51,227.68 L640.52,227.38 L642.53,227.11 L644.55,226.85 L646.56,226.60 L648.58,226.36 L650.59,226.14 L652.60,225.92 L654.60,225.71 L656.60,225.50 L657.87,225.37 M695.20,224.40 L697.23,224.36 L699.26,224.32 L701.29,224.29 L703.32,224.27 L705.35,224.25 L707.39,224.24 L709.42,224.24 L711.45,224.25 L713.48,224.27 L715.51,224.31 L717.54,224.36 L719.57,224.42 L721.60,224.48 L723.63,224.56 L725.66,224.65 L727.69,224.74 L729.72,224.85 L731.75,224.97 L733.78,225.10 L735.78,225.23 M773.40,228.40 L775.40,228.52 L777.41,228.64 L779.41,228.75 L781.41,228.85 L783.42,228.95 L785.42,229.04 L787.43,229.13 L789.43,229.21 L791.44,229.29 L793.44,229.37 L795.45,229.45 L797.46,229.53 L799.46,229.60 L801.47,229.68 L803.47,229.76 L805.48,229.84 L807.49,229.93 L809.49,230.01 L811.50,230.10 L813.50,230.20 L813.96,230.22 M852.50,232.30 L855.00,232.38 L857.50,232.44 L860.00,232.49 L862.50,232.54 L864.50,232.57 L866.50,232.59 L868.50,232.61 L870.50,232.63 L872.50,232.65 L874.50,232.66 L876.50,232.67 L878.50,232.68 L880.50,232.69 L882.50,232.71 L884.50,232.72 L886.50,232.74 L888.50,232.76 L890.50,232.78 L892.50,232.81 L893.10,232.82 M930.00,233.40 L932.50,233.42 L935.00,233.43 L937.50,233.44 L940.00,233.45 L942.50,233.46 L945.00,233.47 L947.50,233.48 L950.00,233.49 L952.50,233.49 L954.50,233.49 L956.50,233.50 L958.50,233.50 L960.50,233.50 L962.50,233.50 L964.50,233.51 L966.50,233.51 L968.50,233.51 L970.50,233.51 L970.60,233.51 M1008.54,233.50 L1010.54,233.50 L1012.56,233.50 L1014.58,233.50 L1016.60,233.50 L1018.63,233.50 L1020.66,233.50 L1022.69,233.50 L1024.72,233.50 L1026.76,233.50 L1028.80,233.50 L1030.84,233.50 L1032.89,233.50 L1034.94,233.50 L1036.99,233.50 L1039.04,233.50 L1041.10,233.50 L1043.16,233.50 L1045.22,233.50 L1047.28,233.50 L1049.14,233.50 M1087.08,233.51 L1089.11,233.51 L1091.23,233.51 L1093.35,233.51 L1095.47,233.51 L1097.60,233.51 L1099.73,233.51 L1101.86,233.51 L1103.99,233.51 L1106.12,233.51 L1108.26,233.51 L1110.40,233.51 L1112.54,233.51 L1114.68,233.51 L1116.83,233.51 L1118.97,233.51 L1121.12,233.51 L1123.28,233.51 L1125.43,233.51 L1127.59,233.51 L1127.68,233.51 M1165.62,233.51 L1167.86,233.51 L1170.05,233.51 L1172.25,233.51 L1174.45,233.51 L1176.65,233.51 L1178.86,233.51 L1181.06,233.51 L1183.27,233.51 L1185.48,233.51 L1187.69,233.51 L1189.90,233.51 L1192.12,233.51 L1194.33,233.51 L1196.55,233.51 L1198.77,233.51 L1200.99,233.51 L1203.21,233.51 L1205.44,233.51 L1206.22,233.51 M1244.16,233.51 L1246.33,233.51 L1248.58,233.51 L1250.84,233.51 L1253.10,233.51 L1255.36,233.51 L1257.62,233.51 L1259.88,233.51 L1262.15,233.51 L1264.41,233.51 L1266.68,233.51 L1268.94,233.51 L1271.21,233.51 L1273.48,233.51 L1275.76,233.51 L1278.03,233.51 L1280.30,233.51 L1282.58,233.51 L1284.76,233.51 M1322.70,233.51 L1324.88,233.51 L1327.18,233.51 L1329.48,233.51 L1331.78,233.51 L1334.08,233.51 L1336.38,233.51 L1338.68,233.51 L1340.98,233.51 L1343.28,233.51 L1345.59,233.51 L1347.89,233.51 L1350.20,233.51 L1352.51,233.51 L1354.82,233.51 L1357.12,233.51 L1359.43,233.51 L1361.74,233.51 L1363.30,233.51 M1401.24,233.51 L1403.45,233.51 L1405.77,233.51 L1408.10,233.51 L1410.42,233.51 L1412.75,233.51 L1415.07,233.51 L1417.40,233.51 L1419.72,233.51 L1422.05,233.51 L1424.38,233.51 L1426.70,233.51 L1429.03,233.51 L1431.36,233.51 L1433.69,233.51 L1436.01,233.51 L1438.34,233.51 L1440.67,233.51 L1441.84,233.51 M1479.78,233.51 L1482.06,233.51 L1484.40,233.51 L1486.73,233.51 L1489.06,233.51 L1491.40,233.51 L1493.73,233.51 L1496.06,233.51 L1498.40,233.51 L1500.73,233.51 L1503.07,233.51 L1505.40,233.51 L1507.73,233.51 L1510.07,233.51 L1512.40,233.51 L1514.73,233.51 L1517.07,233.51 L1519.40,233.51 L1520.38,233.51 M1558.32,233.51 L1560.78,233.51 L1563.11,233.51 L1565.44,233.51 L1567.77,233.51 L1570.10,233.51 L1572.42,233.51 L1574.75,233.51 L1577.08,233.51 L1579.40,233.51 L1581.73,233.51 L1584.05,233.51 L1586.38,233.51 L1588.70,233.51 L1591.02,233.51 L1593.35,233.51 L1595.67,233.51 L1597.99,233.51 L1598.92,233.51 M1636.86,233.51 L1639.10,233.51 L1641.41,233.51 L1643.72,233.51 L1646.02,233.51 L1648.33,233.51 L1650.64,233.51 L1652.94,233.51 L1655.24,233.51 L1657.55,233.51 L1659.85,233.51 L1662.15,233.51 L1664.45,233.51 L1666.75,233.51 L1669.05,233.51 L1671.35,233.51 L1673.64,233.51 L1675.94,233.51 L1677.46,233.51 M1715.40,233.51 L1717.64,233.51 L1719.91,233.51 L1722.19,233.51 L1724.46,233.51 L1726.73,233.51 L1729.00,233.51 L1731.26,233.51 L1733.53,233.51 L1735.79,233.51 L1738.06,233.51 L1740.32,233.51 L1742.58,233.51 L1744.84,233.51 L1747.10,233.51 L1749.35,233.51 L1751.61,233.51 L1753.86,233.51 L1756.00,233.51 M1793.94,233.51 L1796.38,233.51 L1798.60,233.51 L1800.82,233.51 L1803.04,233.51 L1805.25,233.51 L1807.47,233.51 L1809.68,233.51 L1811.89,233.51 L1814.10,233.51 L1816.31,233.51 L1818.51,233.51 L1820.72,233.51 L1822.92,233.51 L1825.12,233.51 L1827.32,233.51 L1829.51,233.51 L1831.71,233.51 L1833.90,233.51 L1834.54,233.51 M1872.48,233.51 L1874.63,233.51 L1876.78,233.51 L1878.93,233.51 L1881.07,233.51 L1883.22,233.51 L1885.36,233.51 L1887.50,233.51 L1889.64,233.51 L1891.78,233.51 L1893.91,233.51 L1896.04,233.51 L1898.17,233.51 L1900.29,233.51 L1902.42,233.51 L1904.54,233.51 L1906.66,233.51 L1908.78,233.51 L1910.89,233.51 L1913.00,233.51 L1913.08,233.51 M1951.02,233.51 L1953.17,233.51 L1955.23,233.51 L1957.29,233.51 L1959.34,233.51 L1961.39,233.51 L1963.44,233.51 L1965.49,233.51 L1967.53,233.51 L1969.58,233.51 L1971.61,233.51 L1973.65,233.51 L1975.68,233.51 L1977.71,233.51 L1979.74,233.51 L1981.76,233.51 L1983.78,233.51 L1985.80,233.51 L1987.82,233.51 L1989.83,233.51 L1991.62,233.51 M2029.56,233.51 L2031.89,233.51 L2034.32,233.51 L2036.74,233.51 L2039.16,233.51 L2041.58,233.51 L2043.98,233.51 L2046.39,233.51 L2048.79,233.51 L2051.18,233.51 L2053.57,233.51 L2055.96,233.51 L2058.33,233.51 L2060.71,233.51 L2063.08,233.51 L2065.44,233.51 L2067.79,233.51 L2070.15,233.51 L2070.16,233.51 M2108.10,233.50 L2110.18,233.50 L2112.42,233.50 L2114.67,233.50 L2116.90,233.50 L2119.13,233.50 L2121.36,233.50 L2123.57,233.50 L2125.79,233.50 L2127.99,233.50 L2130.19,233.50 L2132.39,233.50 L2134.57,233.50 L2136.76,233.50 L2138.93,233.50 L2141.10,233.50 L2143.26,233.50 L2145.42,233.50 L2147.57,233.50 L2148.70,233.50 M2186.64,233.50 L2188.81,233.50 L2190.83,233.50 L2192.83,233.50 L2194.83,233.50 L2197.23,233.50 L2199.61,233.50 L2201.98,233.50 L2204.34,233.50 L2206.69,233.50 L2209.03,233.50 L2211.36,233.50 L2213.68,233.50 L2215.99,233.50 L2218.29,233.50 L2220.58,233.50 L2222.86,233.50 L2225.12,233.50 L2227.24,233.50 M2265.18,233.50 L2267.20,233.50 L2269.24,233.50 L2271.27,233.50 L2273.29,233.50 L2275.30,233.50 L2277.63,233.50 L2279.94,233.50 L2282.24,233.50 L2284.52,233.50 L2286.79,233.50 L2289.04,233.50 L2291.27,233.50 L2293.49,233.50 L2295.69,233.50 L2297.87,233.50 L2300.04,233.50 L2302.19,233.50 L2304.33,233.50 L2305.78,233.50 M2343.72,233.50 L2345.95,233.50 L2346.20,233.50" stroke="#0000ff" stroke-width="11" stroke-linecap="butt"/>
</g>
<g fill="#262626" font-size="64px">
<text x="194.40" y="1902">0</text>
<text x="380.72 416.31 434.09" y="1902">0.2</text>
<text x="593.72 629.31 647.09" y="1902">0.4</text>
<text x="806.72 842.31 860.09" y="1902">0.6</text>
<text x="1019.72 1055.31 1073.09" y="1902">0.8</text>
<text x="1261.20" y="1902"><tspan style="font-family:&quot;TeX Gyre Heros&quot;, &quot;Liberation Sans&quot;, Arial, sans-serif">1</tspan></text>
<text x="1447.52 1481.31 1499.09" y="1902"><tspan style="font-family:&quot;TeX Gyre Heros&quot;, &quot;Liberation Sans&quot;, Arial, sans-serif">1</tspan>.2</text>
<text x="1660.52 1694.31 1712.09" y="1902"><tspan style="font-family:&quot;TeX Gyre Heros&quot;, &quot;Liberation Sans&quot;, Arial, sans-serif">1</tspan>.4</text>
<text x="1873.52 1907.31 1925.09" y="1902"><tspan style="font-family:&quot;TeX Gyre Heros&quot;, &quot;Liberation Sans&quot;, Arial, sans-serif">1</tspan>.6</text>
<text x="2086.52 2120.31 2138.09" y="1902"><tspan style="font-family:&quot;TeX Gyre Heros&quot;, &quot;Liberation Sans&quot;, Arial, sans-serif">1</tspan>.8</text>
<text x="2324.40" y="1902">2</text>
<text x="150.01" y="1633.9">2</text>
<text x="150.01" y="1422.4">4</text>
<text x="150.01" y="1211.0">6</text>
<text x="150.01" y="999.5">8</text>
<text x="116.21 150.01" y="788.0"><tspan style="font-family:&quot;TeX Gyre Heros&quot;, &quot;Liberation Sans&quot;, Arial, sans-serif">1</tspan>0</text>
<text x="116.21 150.01" y="576.5"><tspan style="font-family:&quot;TeX Gyre Heros&quot;, &quot;Liberation Sans&quot;, Arial, sans-serif">1</tspan>2</text>
<text x="116.21 150.01" y="365.0"><tspan style="font-family:&quot;TeX Gyre Heros&quot;, &quot;Liberation Sans&quot;, Arial, sans-serif">1</tspan>4</text>
<text x="116.21 150.01" y="153.5"><tspan style="font-family:&quot;TeX Gyre Heros&quot;, &quot;Liberation Sans&quot;, Arial, sans-serif">1</tspan>6</text>
</g>
<text transform="translate(0,2002) scale(1,1.035)" x="1155.16 1197.12 1213.05 1273.90 1315.17 1340.07 1380.77" y="0" font-size="73px" fill="#262626">Time(s)</text>
<text transform="translate(75,1103.6) rotate(-90) scale(1,1.035)" x="-0.14 49.05 89.73 130.98 146.60 188.57 212.65 246.27" y="0" font-size="73px" fill="#262626">Angle(°)</text>
<g fill="#000" font-weight="bold">
<text transform="translate(0,92) scale(1,1.05)" x="732.4" y="0" font-size="78.5px">Response under Setpoint </text>
<text x="1706.5" y="92" font-size="79px" style="font-family:&quot;TeX Gyre Heros&quot;, &quot;Liberation Sans&quot;, Arial, sans-serif">1</text>
<text transform="translate(0,92) scale(1,1.05)" x="1750.8 1792.2" y="0" font-size="78.5px">5°</text>
</g>
<rect x="1791" y="1485.5" width="490.5" height="259.5" fill="#fff"/>
<g fill="#262626" shape-rendering="crispEdges"><rect x="1789" y="1483" width="4" height="264"/><rect x="2279" y="1483" width="5" height="264"/><rect x="1789" y="1483" width="495" height="5"/><rect x="1789" y="1743" width="495" height="4"/></g>
<line x1="1809.5" y1="1534" x2="2007" y2="1534" stroke="#000" stroke-width="11"/>
<path d="M1809.50,1615.3 h11.5 M1829.19,1615.3 h11.5 M1848.88,1615.3 h11.5 M1868.57,1615.3 h11.5 M1888.26,1615.3 h11.5 M1907.95,1615.3 h11.5 M1927.64,1615.3 h11.5 M1947.33,1615.3 h11.5 M1967.02,1615.3 h11.5 M1986.71,1615.3 h11.5" stroke="#ff0000" stroke-width="11" fill="none"/>
<path d="M1809.80,1696.2 h40.3 M1888.30,1696.2 h40.3 M1966.80,1696.2 h40.3" stroke="#0000ff" stroke-width="11" fill="none"/>
<g fill="#000" font-size="58.5px">
<text transform="translate(0,1557.8) scale(1,1.02)" x="2020.54 2059.61 2093.11 2109.74 2143.81 2177.36 2190.10 2222.41" y="0">SetValue</text>
<text transform="translate(0,1638.9) scale(1,1.02)" x="2020.20 2053.79 2092.20 2135.10 2177.93" y="0">LADRC</text>
<text transform="translate(0,1720) scale(1,1.02)" x="2020.20 2060.60 2076.30" y="0">PID</text>
</g>
</svg>
</body></html>
